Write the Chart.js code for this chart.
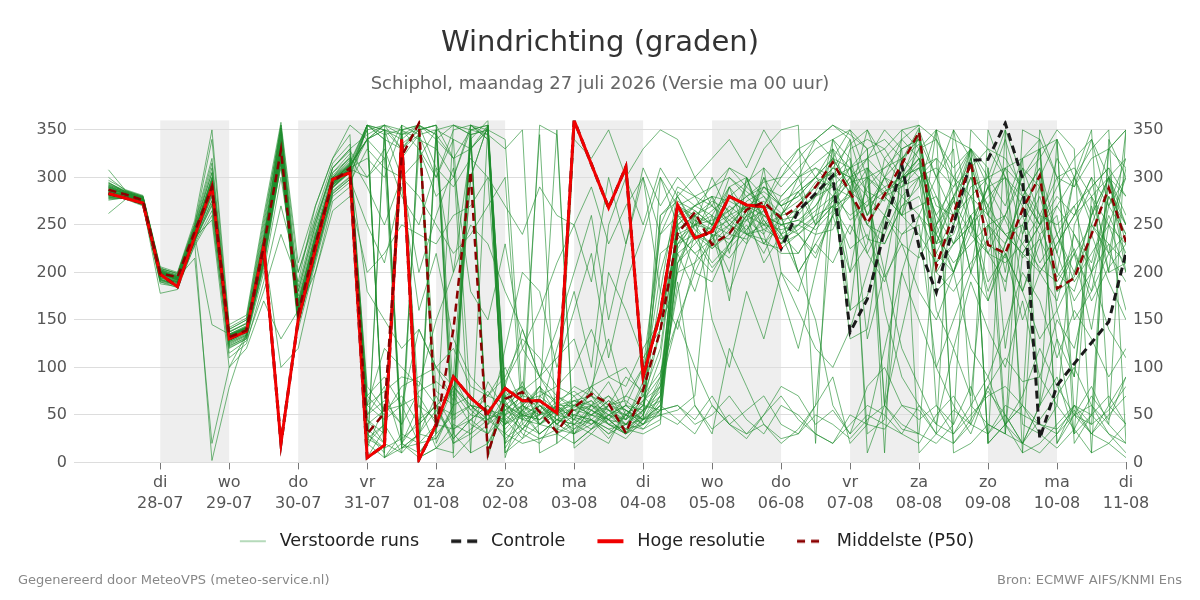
<!DOCTYPE html>
<html>
<head>
<meta charset="utf-8">
<title>Windrichting (graden)</title>
<script src="https://cdn.jsdelivr.net/npm/chart.js@4.4.1/dist/chart.umd.min.js"></script>
<style>
  html, body { margin: 0; padding: 0; background: #fff; }
  #wrap { position: relative; width: 1200px; height: 600px; }
  .foot { position: absolute; top: 572px; font: 13px "DejaVu Sans", sans-serif; color: #888; }
  #footLeft { left: 18px; }
  #footRight { right: 18px; }
</style>
</head>
<body>
<div id="wrap">
  <canvas id="myChart" width="1200" height="600"></canvas>
  <div class="foot" id="footLeft">Gegenereerd door MeteoVPS (meteo-service.nl)</div>
  <div class="foot" id="footRight">Bron: ECMWF AIFS/KNMI Ens</div>
</div>
<script>
// uren na ma 27-07 00 uur
const hours = [6, 12, 18, 24, 30, 36, 42, 48, 54, 60, 66, 72, 78, 84, 90, 96, 102, 108, 114, 120,
  126, 132, 138, 144, 150, 156, 162, 168, 174, 180, 186, 192, 198, 204, 210, 216, 222, 228, 234, 240,
  246, 252, 258, 264, 270, 276, 282, 288, 294, 300, 306, 312, 318, 324, 330, 336, 342, 348, 354, 360];

const dayHours = [24, 48, 72, 96, 120, 144, 168, 192, 216, 240, 264, 288, 312, 336, 360];
const dayNames = ["di", "wo", "do", "vr", "za", "zo", "ma", "di", "wo", "do", "vr", "za", "zo", "ma", "di"];
const dayDates = ["28-07", "29-07", "30-07", "31-07", "01-08", "02-08", "03-08", "04-08", "05-08", "06-08", "07-08", "08-08", "09-08", "10-08", "11-08"];
const shadedStarts = [24, 72, 120, 168, 216, 264, 312];
const yTicks = [0, 50, 100, 150, 200, 250, 300, 350];

const hresVals = [283, 278, 273, 198, 185, 238, 290, 130, 138, 228, 20, 150, 225, 298, 305, 5, 18, 340, 3, 40,
  90, 68, 52, 78, 65, 65, 52, 360, 314, 268, 311, 90, 157, 271, 236, 243, 280, 271, 269, 225,
  null, null, null, null, null, null, null, null, null, null, null, null, null, null, null, null, null, null, null, null];

const ctrlVals = [283, 278, 273, 198, 185, 238, 290, 130, 138, 228, 20, 150, 225, 298, 305, 5, 18, 340, 3, 40,
  90, 68, 52, 78, 65, 65, 52, 360, 314, 268, 311, 90, 157, 271, 236, 243, 280, 271, 269, 225,
  265, 283, 302, 137, 172, 244, 313, 227, 179, 250, 318, 319, 357, 299, 25, 81, 104, 126, 148, 221];

const p50Vals = [287, 282, 276, 199, 195, 243, 290, 132, 139, 227, 329, 157, 230, 295, 310, 30, 52, 322, 357, 37,
  140, 306, 9, 67, 74, 53, 32, 58, 72, 62, 31, 76, 139, 241, 263, 229, 241, 266, 274, 257,
  270, 290, 316, 284, 252, 282, 314, 348, 206, 262, 316, 229, 220, 266, 302, 183, 194, 240, 289, 232];

// verstoorde runs
const run01 = [290,283,277,200,192,238,295,130,142,230,335,158,235,298,312, 340,355,20,45,60,75,50,70,62,48,55,40, 58,65,50,45,60,140, 245,260,238,250,270,280,262, 275,290,310,300,260,280,305,330, 220,260,300,250,230,280,310,200,180,240,290,250];
const run02 = [285,281,274,196,190,245,300,128,138,220,340,150,225,292,305, 25,40,330,350,20,60,300,355,75,50,45,65, 48,40,55,35,50,85, 230,250,225,240,265,275,255, 260,285,320,290,130,200,300,345, 210,250,320,230,215,270,300,180,195,260,300,230];
const run03 = [295,284,279,203,195,231,2,79,135,210,322,170,240,300,318, 45,30,355,10,35,80,60,40,55,70,345,20, 35,55,45,30,75,200, 265,240,210,230,255,290,280, 300,315,330,160,175,250,318,352, 230,275,330,310,40,60,350,300,220,180,270,320];
const run04 = [280,280,275,198,188,236,285,135,143,235,325,165,228,290,308, 350,15,340,355,40,90,355,350,5,60,50,55, 60,70,45,40,55,70, 270,255,240,235,260,300,240, 265,280,300,310,285,275,330,340, 250,200,260,280,300,40,30,60,250,290,310,210];
const run05 = [300,286,280,205,198,250,340,140,150,250,355,200,260,315,335, 5,35,320,345,30,50,340,10,80,45,65,350, 20,35,60,40,45,60, 220,235,205,225,245,265,235, 250,270,295,130,140,260,315,345, 240,280,310,270,30,20,60,340,50,40,300,280];
const run06 = [276,279,272,193,186,242,288,125,134,215,345,145,215,285,300, 30,10,335,350,355,70,300,355,20,55,40,60, 45,75,55,40,60,110, 255,270,260,245,275,285,270, 280,300,320,290,220,260,300,320, 200,230,280,260,240,250,290,220,170,200,280,240];
const run07 = [292,285,278,201,194,215,20,100,135,205,315,175,245,305,320, 60,45,60,20,40,90,55,75,50,85,40,60, 60,50,65,45,80,260, 280,245,230,290,300,255,230, 240,260,340,320,30,45,200,260, 300,330,60,40,30,220,250,200,300,350,60,40];
const run08 = [288,282,276,199,193,241,292,133,141,228,100,120,200,275,290, 355,340,15,20,25,60,70,50,45,60,50,70, 55,60,40,30,50,90, 240,220,235,260,270,250,230, 270,295,305,285,270,300,290,310, 260,230,250,290,300,270,240,260,150,180,220,190];
const run09 = [283,281,273,190,184,235,280,120,130,200,300,180,250,310,330, 345,355,350,340,330,300,350,355,60,30,20,50, 30,45,25,50,35,55, 210,230,250,260,245,270,300, 330,340,355,340,10,60,290,300, 240,210,230,250,260,300,330,20,50,80,40,350];
const run10 = [297,287,281,206,200,255,350,145,155,260,358,210,270,320,345, 15,60,40,75,85,70,40,30,65,35,60,45, 40,55,70,55,40,65, 225,255,245,230,260,270,260, 265,280,290,255,270,285,295,320, 230,240,290,300,350,10,20,40,60,30,50,70];
const run11 = [279,278,271,178,182,230,265,110,125,190,270,200,255,305,325, 70,50,80,90,100,65,340,360,70,80,40,35, 50,45,35,25,45,250, 290,280,270,255,240,250,245, 250,240,245,290,320,330,300,310, 320,300,250,220,210,230,260,300,310,280,300,260];
const run12 = [286,282,275,200,194,243,288,129,137,225,332,155,228,293,310, 320,300,350,355,310,200,330,350,45,25,70,80, 70,80,60,50,65,80, 250,270,280,275,265,290,270, 290,310,300,200,230,320,340,355, 180,200,240,220,190,250,200,230,260,300,200,210];
const run13 = [282,280,274,197,191,239,291,134,142,232,338,162,232,296,312, 50,80,20,5,15,40,30,85,55,45,355,345, 15,30,20,55,45,70, 190,60,35,50,30,40,25, 30,60,270,240,290,310,330,340, 60,30,50,70,80,60,40,30,50,60,30,20];
const run14 = [293,285,279,202,196,248,310,138,146,238,345,168,238,300,316, 355,350,345,350,355,320,10,355,65,80,60,50, 65,60,70,45,85,220, 235,250,255,265,280,260,250, 255,270,300,320,260,300,320,335, 250,280,320,260,240,220,250,290,320,340,270,300];
const run15 = [262,277,270,188,185,228,260,115,128,180,240,190,270,320,355, 340,20,345,355,75,60,355,340,10,35,25,30, 45,50,40,35,30,40, 260,235,245,270,255,240,280, 300,310,290,280,250,240,280,300, 160,120,190,140,100,170,90,150,120,200,140,110];
const run16 = [289,283,277,201,193,244,293,131,139,226,328,156,226,294,309, 300,320,15,30,350,45,60,55,50,65,70,55, 55,40,60,65,50,300, 270,280,290,300,285,270,260, 200,230,260,330,340,330,350,355, 340,300,330,260,310,240,280,220,300,260,330,350];
const run17 = [281,280,275,194,190,237,255,100,120,170,130,160,200,265,280, 200,220,250,240,230,260,270,300,40,55,80,50, 70,45,30,40,65,90, 200,210,230,215,240,235,220, 220,250,280,260,275,290,300,320, 270,260,280,300,310,320,330,340,300,250,220,240];
const run18 = [291,284,279,199,195,245,297,133,143,233,350,160,232,297,313, 25,15,355,30,70,35,45,60,40,75,55,30, 40,60,55,50,70,120, 250,265,250,280,295,310,290, 310,330,340,350,300,280,260,270, 280,230,260,190,220,150,200,170,240,210,280,250];
const run19 = [284,282,276,198,192,240,289,132,140,229,333,157,229,295,311, 355,340,330,345,350,355,345,350,340,60,40,55, 50,45,35,40,55,75, 230,260,270,250,240,245,235, 245,260,270,280,300,310,320,340, 300,260,330,290,340,280,310,240,270,200,230,160];
const run20 = [308,286,280,204,199,252,320,142,152,255,352,185,255,310,330, 20,5,30,350,355,20,30,45,85,120,160,210, 250,190,300,230,310,270, 300,280,250,290,265,230,250, 240,215,260,200,300,160,90,60, 30,20,45,75,50,20,10,30,60,40,55,80];
const run21 = [278,279,271,191,187,233,275,122,132,210,320,140,210,280,295, 330,310,300,280,250,220,240,270,300,40,60,45, 60,55,40,30,45,60, 240,250,265,280,260,250,275, 285,300,290,310,320,300,280,260, 240,200,260,170,230,280,250,320,290,340,300,250];
const run22 = [287,283,276,200,193,241,291,132,140,227,330,158,230,295,311, 40,55,60,70,40,35,50,45,30,20,25,35, 30,40,50,60,45,55, 60,40,50,70,45,30,60, 50,30,20,40,60,50,30,20, 50,70,40,30,60,50,40,35,55,30,20,40];
const run23 = [285,281,275,198,192,239,145,135,140,224,326,153,227,293,308, 180,150,120,140,100,80,60,45,55,70,65,50, 55,50,45,60,55,80, 150,100,60,40,30,50,70, 45,30,20,50,40,35,60,55, 30,55,40,80,110,85,90,60,35,70,45,90];
const run24 = [290,284,278,200,196,244,296,133,142,231,355,163,233,299,314, 355,345,350,355,340,355,350,345,30,50,60,40, 30,50,60,55,45,260, 275,265,250,240,235,255,230, 250,280,310,335,350,320,295,315, 200,180,210,235,260,230,205,190,220,250,230,210];
const run25 = [283,280,273,195,189,236,286,127,136,219,325,149,221,289,306, 60,75,90,85,60,50,60,55,40,50,45,55, 40,45,60,70,100,240, 260,250,245,255,270,260,250, 255,245,265,285,235,230,270,290, 350,340,330,20,40,60,30,15,35,10,20,5];
const run26 = [289,283,278,202,194,242,293,134,141,232,339,161,234,297,313, 340,350,330,355,345,30,10,20,60,45,50,60, 65,70,55,45,60,180, 285,270,290,310,300,280,250, 270,290,310,300,250,280,290,330, 350,10,20,40,30,350,340,20,60,50,30,10];
const run27 = [277,278,271,192,186,234,270,123,131,212,318,147,216,283,298, 250,210,290,160,220,130,90,70,100,60,80,30, 20,35,45,30,55,65, 230,240,225,245,255,265,240, 250,265,280,300,310,280,260,240, 210,230,250,270,240,220,200,230,260,280,250,230];
const run28 = [294,285,279,203,197,248,305,137,147,240,348,170,240,302,320, 35,20,10,355,345,320,330,350,15,45,40,50, 45,35,50,35,40,55, 245,260,275,265,280,295,300, 320,340,355,345,330,60,40,30, 20,40,350,330,300,280,250,270,300,330,350,20];
const run29 = [286,282,276,199,193,240,290,131,139,226,329,157,229,294,310, 80,55,70,40,60,25,45,30,50,60,75,65, 75,60,85,50,70,95, 150,200,190,230,250,220,260, 285,250,270,225,240,195,230,215, 250,275,240,290,255,215,235,195,225,170,205,230];
const run30 = [281,280,274,196,190,237,287,128,137,221,327,151,223,290,307, 355,5,15,30,25,55,345,5,70,55,30,45, 50,60,45,30,40,50, 55,70,250,265,240,230,225, 240,255,275,295,300,285,300,310, 260,290,310,330,320,290,260,250,270,290,310,280];
const run31 = [284,281,275,197,191,238,288,130,139,224,310,165,240,300,322, 290,250,300,200,260,310,180,150,230,120,90,140, 200,260,150,230,300,180, 140,210,260,170,300,240,180, 120,200,280,160,310,60,140,220, 350,280,200,310,120,240,330,160,90,270,200,350];
const run32 = [288,283,277,201,195,242,300,135,142,229,335,158,228,292,308, 10,350,300,320,350,5,25,40,120,200,180,100, 160,220,110,190,240,300, 250,200,240,180,230,310,200, 180,240,300,340,280,200,120,80, 40,120,70,250,180,320,60,130,30,280,220,310];
const run33 = [281,279,273,193,187,234,282,126,134,216,318,150,222,289,305, 340,355,330,60,15,30,345,350,80,140,90,60, 45,80,130,60,100,160, 220,180,240,200,270,230,260, 300,250,330,280,350,300,260,350, 300,350,250,290,200,310,260,180,220,140,250,300];
const run34 = [292,285,279,203,197,247,305,137,146,236,342,166,236,299,315, 45,20,350,330,280,300,355,340,20,35,50,120, 180,100,250,300,330,350, 340,300,270,310,290,330,350, 355,20,340,300,320,350,330,10, 30,350,320,20,40,10,300,340,20,50,330,350];
const run35 = [283,282,276,198,193,239,289,131,140,226,330,157,229,294,310, 60,120,100,80,150,200,250,230,180,140,90,110, 130,70,200,160,110,140, 200,260,150,100,180,130,200, 160,120,100,140,200,260,230,180, 150,200,120,90,140,200,170,110,160,130,90,120];
const run36 = [286,281,274,199,192,241,291,132,141,227,331,156,229,294,310, 30,15,25,40,60,20,35,50,25,40,30,45, 35,45,30,50,40,60, 45,30,60,40,55,70,40, 30,50,40,25,45,60,35,30, 250,300,280,220,260,310,290,240,200,260,300,320];
const run37 = [279,278,272,192,188,233,276,124,133,213,320,148,218,286,301, 355,350,20,10,350,340,330,355,10,25,40,55, 65,55,45,70,60,55, 60,45,70,40,25,50,80, 70,40,55,30,80,100,60,45, 60,40,80,30,50,20,45,70,100,60,40,20];
const run38 = [290,284,278,201,196,245,298,135,144,233,348,162,233,298,314, 50,65,40,330,300,340,60,45,60,75,90,70, 60,80,90,100,70,50, 40,60,30,120,80,40,20, 35,60,90,20,40,120,200,150, 100,60,30,80,40,20,60,90,30,50,70,40];
const run39 = [287,283,277,200,194,243,292,133,140,230,333,160,231,296,312, 340,320,355,345,300,350,355,345,330,350,10,20, 340,320,350,300,250,310, 280,300,320,340,310,350,320, 300,340,320,350,330,10,350,330, 340,310,330,20,350,300,320,350,330,10,340,300];
const run40 = [280,279,273,194,189,235,283,127,135,218,322,152,224,290,306, 70,90,60,140,100,120,80,70,90,130,110,80, 100,140,90,80,120,150, 240,220,200,230,260,210,240, 200,230,210,250,220,190,240,260, 220,200,250,180,230,260,210,240,190,220,250,200];
const run41 = [294,286,280,204,199,250,315,140,150,245,352,180,250,310,328, 300,330,280,250,310,290,320,300,270,240,290,260, 250,290,230,270,300,240, 280,250,300,260,290,270,310, 330,300,280,310,260,300,340,320, 280,250,300,270,310,290,250,280,260,300,270,240];
const run42 = [282,280,274,196,190,237,286,129,137,222,326,154,226,292,308, 20,40,10,30,55,25,45,60,35,55,65,40, 55,65,40,50,45,80, 180,240,280,220,300,250,260, 200,150,60,30,50,40,30,60, 40,30,60,90,40,70,120,80,50,30,60,90];
const run43 = [285,281,275,199,192,240,290,131,139,227,330,157,229,294,310, 350,355,345,5,15,10,350,355,40,60,45,60, 30,60,50,40,35,45, 210,250,260,290,240,300,270, 240,220,260,280,310,290,260,300, 320,20,40,350,300,180,240,130,90,250,300,200];
const run44 = [291,284,278,200,195,244,294,134,142,232,336,161,232,297,313, 5,350,340,10,30,355,345,20,50,35,60,40, 60,50,65,55,40,70, 260,270,280,250,230,260,240, 220,250,270,300,280,260,240,250, 100,150,200,170,220,180,130,160,200,240,190,150];
const run45 = [278,278,271,190,186,232,272,121,130,208,315,146,214,283,298, 355,5,20,60,45,80,55,40,70,50,80,60, 80,70,60,90,75,140, 270,260,250,300,280,290,270, 280,300,330,310,250,230,270,280, 230,280,200,250,220,180,230,270,240,200,260,220];
const run46 = [289,283,277,202,194,243,296,133,142,231,338,160,234,297,313, 340,350,30,20,340,320,350,10,60,50,30,45, 40,30,50,60,45,50, 210,240,230,250,270,245,260, 285,300,320,310,330,340,320,300, 310,290,330,300,270,320,340,300,290,320,330,310];

const runs = [run01, run02, run03, run04, run05, run06, run07, run08, run09, run10,
  run11, run12, run13, run14, run15, run16, run17, run18, run19, run20,
  run21, run22, run23, run24, run25, run26, run27, run28, run29, run30,
  run31, run32, run33, run34, run35, run36, run37, run38, run39, run40,
  run41, run42, run43, run44, run45, run46];

function toPoints(vals) {
  return hours.map((h, i) => ({ x: h, y: vals[i] }));
}

// lijntje voor de legenda, links wat lucht zodat de items verder uit elkaar staan
const iconWidth = 45;
function legendIcon(color, width, dash) {
  const c = document.createElement("canvas");
  c.width = iconWidth;
  c.height = 8;
  const g = c.getContext("2d");
  g.strokeStyle = color;
  g.lineWidth = width;
  g.setLineDash(dash);
  g.beginPath();
  g.moveTo(iconWidth - 31, 4);
  g.lineTo(iconWidth - 5, 4);
  g.stroke();
  return c;
}

const runColor = "rgba(30, 140, 45, 0.62)";

function runDataset(vals, i) {
  return {
    label: i === 0 ? "Verstoorde runs" : "",
    data: toPoints(vals),
    borderColor: runColor,
    borderWidth: 1,
    pointRadius: 0,
    pointStyle: legendIcon("rgba(30, 140, 45, 0.55)", 1.2, []),
    tension: 0,
    order: 4,
  };
}

const datasets = [
  runDataset(runs[0], 0),
  {
    label: "Controle",
    data: toPoints(ctrlVals),
    borderColor: "#1a1a1a",
    borderWidth: 3,
    borderDash: [8, 5],
    pointRadius: 0,
    pointStyle: legendIcon("#1a1a1a", 3.5, [10, 6]),
    tension: 0,
    order: 3,
  },
  {
    label: "Hoge resolutie",
    data: toPoints(hresVals),
    borderColor: "#f00000",
    borderWidth: 3,
    pointRadius: 0,
    pointStyle: legendIcon("#f00000", 4, []),
    tension: 0,
    order: 2,
  },
  {
    label: "Middelste (P50)",
    data: toPoints(p50Vals),
    borderColor: "#8b0000",
    borderWidth: 2.5,
    borderDash: [8, 5],
    pointRadius: 0,
    pointStyle: legendIcon("#8b0000", 3, [8, 6]),
    tension: 0,
    order: 1,
  },
];
for (let i = 1; i < runs.length; i++) datasets.push(runDataset(runs[i], i));

// grijze banden om de dag
const dayShading = {
  id: "dayShading",
  beforeDraw(chart) {
    const { ctx, chartArea, scales } = chart;
    ctx.save();
    ctx.fillStyle = "#eeeeee";
    shadedStarts.forEach((h) => {
      const x0 = scales.x.getPixelForValue(h);
      const x1 = scales.x.getPixelForValue(h + 24);
      ctx.fillRect(x0, chartArea.top, x1 - x0, chartArea.bottom - chartArea.top);
    });
    ctx.restore();
  },
};

Chart.defaults.font.family = "'DejaVu Sans', sans-serif";

const yTickOpts = { color: "#555", font: { size: 16 }, padding: 7 };

new Chart(document.getElementById("myChart"), {
  type: "line",
  data: { datasets: datasets },
  options: {
    responsive: false,
    animation: false,
    layout: { padding: { top: 10, bottom: 40, left: 0, right: 0 } },
    scales: {
      x: {
        type: "linear",
        min: -6,
        max: 360,
        afterBuildTicks: (s) => { s.ticks = dayHours.map((v) => ({ value: v })); },
        afterFit: (s) => { s.height = 52; },
        grid: { drawOnChartArea: false, drawTicks: true, tickLength: 7, color: "#777" },
        border: { display: false },
        ticks: {
          color: "#555",
          font: { size: 16, lineHeight: 1.33 },
          padding: 3,
          maxRotation: 0,
          autoSkip: false,
          callback: (v, i) => [dayNames[i], dayDates[i]],
        },
      },
      y: {
        position: "left",
        min: 0,
        max: 360,
        afterBuildTicks: (s) => { s.ticks = yTicks.map((v) => ({ value: v })); },
        afterFit: (s) => { s.width = 74; },
        grid: { color: "#dddddd", drawTicks: false },
        border: { display: false },
        ticks: yTickOpts,
      },
      y2: {
        position: "right",
        min: 0,
        max: 360,
        afterBuildTicks: (s) => { s.ticks = yTicks.map((v) => ({ value: v })); },
        afterFit: (s) => { s.width = 74; },
        grid: { display: false, drawTicks: false },
        border: { display: false },
        ticks: yTickOpts,
      },
    },
    plugins: {
      title: {
        display: true,
        text: "Windrichting (graden)",
        color: "#333",
        font: { size: 29, weight: "normal" },
        padding: { top: 16, bottom: 8 },
      },
      subtitle: {
        display: true,
        text: "Schiphol, maandag 27 juli 2026 (Versie ma 00 uur)",
        color: "#666",
        font: { size: 18 },
        padding: { top: 5, bottom: 25 },
      },
      legend: {
        position: "bottom",
        labels: {
          color: "#222",
          font: { size: 17.6 },
          usePointStyle: true,
          pointStyleWidth: iconWidth,
          padding: 18,
          filter: (item) => item.text !== "",
          sort: (a, b) => a.datasetIndex - b.datasetIndex,
        },
      },
      tooltip: { enabled: false },
    },
  },
  plugins: [dayShading],
});
</script>
</body>
</html>
